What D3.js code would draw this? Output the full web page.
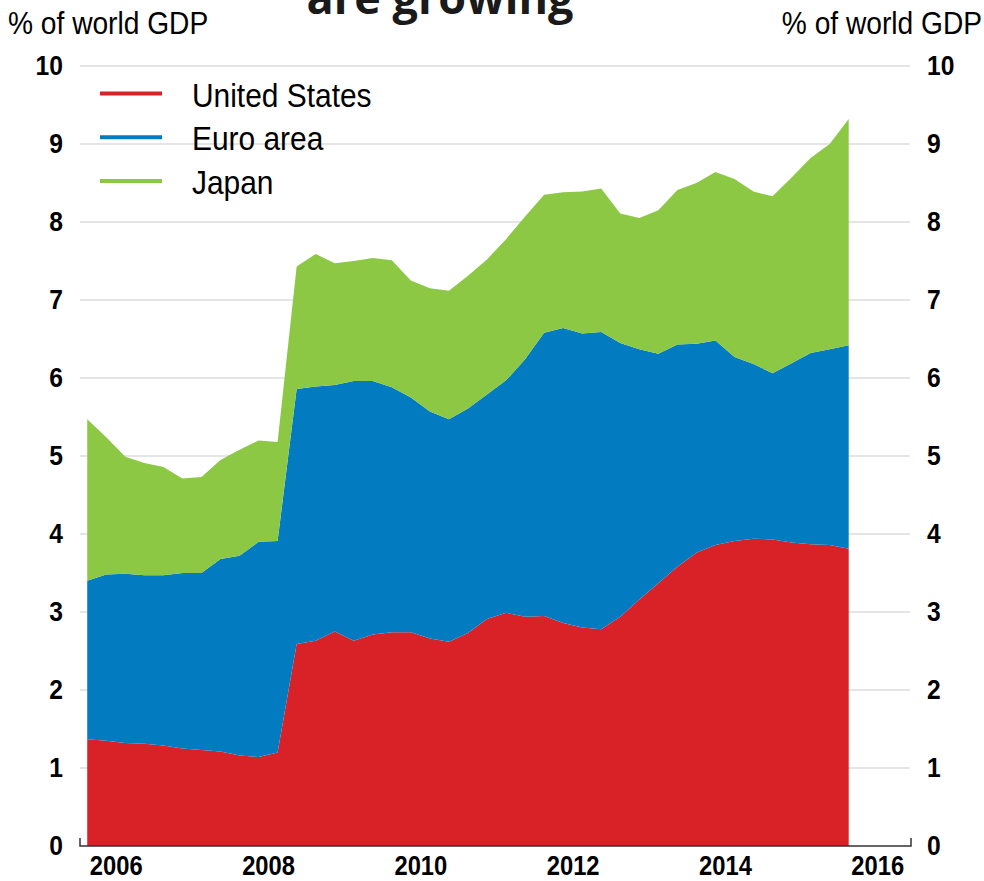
<!DOCTYPE html>
<html>
<head>
<meta charset="utf-8">
<script src="https://cdn.jsdelivr.net/npm/d3@7"></script>
<style>
  body { margin: 0; background: #fff; }
  svg { display: block; }
</style>
</head>
<body>
<svg id="chart" width="984" height="881"></svg>
<script>
// Quarterly observations, % of world GDP
const quarters = [
  "2005Q3","2005Q4",
  "2006Q1","2006Q2","2006Q3","2006Q4",
  "2007Q1","2007Q2","2007Q3","2007Q4",
  "2008Q1","2008Q2","2008Q3","2008Q4",
  "2009Q1","2009Q2","2009Q3","2009Q4",
  "2010Q1","2010Q2","2010Q3","2010Q4",
  "2011Q1","2011Q2","2011Q3","2011Q4",
  "2012Q1","2012Q2","2012Q3","2012Q4",
  "2013Q1","2013Q2","2013Q3","2013Q4",
  "2014Q1","2014Q2","2014Q3","2014Q4",
  "2015Q1","2015Q2","2015Q3"
];
const unitedStates = [
  1.37, 1.35,
  1.32, 1.31, 1.29, 1.25,
  1.23, 1.21, 1.16, 1.14,
  1.20, 2.59, 2.63, 2.75,
  2.63, 2.71, 2.74, 2.74,
  2.66, 2.62, 2.73, 2.91,
  2.99, 2.94, 2.95, 2.86,
  2.80, 2.78, 2.94, 3.16,
  3.37, 3.58, 3.76, 3.86,
  3.91, 3.94, 3.93, 3.89,
  3.87, 3.86, 3.81
];
const euroArea = [
  2.03, 2.13,
  2.17, 2.16, 2.18, 2.25,
  2.27, 2.47, 2.56, 2.76,
  2.71, 3.27, 3.26, 3.16,
  3.33, 3.25, 3.14, 3.01,
  2.91, 2.85, 2.88, 2.88,
  2.98, 3.30, 3.63, 3.78,
  3.77, 3.81, 3.51, 3.21,
  2.94, 2.85, 2.68, 2.62,
  2.36, 2.24, 2.13, 2.30,
  2.45, 2.51, 2.61
];
const japan = [
  2.07, 1.76,
  1.50, 1.44, 1.39, 1.21,
  1.23, 1.27, 1.36, 1.30,
  1.27, 1.57, 1.70, 1.56,
  1.54, 1.58, 1.63, 1.50,
  1.58, 1.65, 1.70, 1.73,
  1.81, 1.83, 1.77, 1.74,
  1.82, 1.84, 1.66, 1.68,
  1.84, 1.98, 2.06, 2.16,
  2.28, 2.21, 2.27, 2.38,
  2.50, 2.63, 2.90
];
const seriesNames = ["United States", "Euro area", "Japan"];
const seriesColors = ["#d92128", "#037bc1", "#8cc844"];
const yTicks = [0, 1, 2, 3, 4, 5, 6, 7, 8, 9, 10];
const xTickYears = [2006, 2008, 2010, 2012, 2014, 2016];
const unitLabel = "% of world GDP";
const titleText = "are growing";

const svg = d3.select("#chart");
const baseFont = "'Liberation Sans', Arial, sans-serif";
const narrowFactor = 0.88;

// Condense a text horizontally around its own anchor x
function narrow(sel) {
  sel.each(function () {
    const t = d3.select(this);
    const x0 = +t.attr("x") || 0;
    t.attr("transform", `translate(${x0},0) scale(${narrowFactor},1) translate(${-x0},0)`);
  });
}

// Quarter label -> decimal year at the middle of the quarter
const quarterToYear = q => +q.slice(0, 4) + (+q.slice(5) - 1) / 4 + 0.125;

const rows = quarters.map((q, i) => ({
  t: quarterToYear(q),
  "United States": unitedStates[i],
  "Euro area": euroArea[i],
  "Japan": japan[i]
}));

const x = d3.scaleLinear().domain([2005.53, 2016.43]).range([80, 910]);
const y = d3.scaleLinear().domain([0, 10]).range([846, 66]);

// Horizontal gridlines
svg.append("g")
  .selectAll("line")
  .data(yTicks.filter(d => d > 0))
  .join("line")
  .attr("x1", 80).attr("x2", 910)
  .attr("y1", d => y(d)).attr("y2", d => y(d))
  .attr("stroke", "#dcdcdc")
  .attr("stroke-width", 1.5);

// Stacked areas
const stacked = d3.stack().keys(seriesNames)(rows);
const area = d3.area()
  .x(d => x(d.data.t))
  .y0(d => y(d[0]))
  .y1(d => y(d[1]));

svg.append("g")
  .selectAll("path")
  .data(stacked)
  .join("path")
  .attr("d", area)
  .attr("fill", (d, i) => seriesColors[i]);

// Baseline with small end ticks
svg.append("path")
  .attr("d", `M80,${y(0) - 8}V${y(0)}H911V${y(0) - 8}`)
  .attr("fill", "none")
  .attr("stroke", "#333")
  .attr("stroke-width", 1.5);

// Axes (labels only)
const styleAxis = size => g => {
  g.select(".domain").remove();
  g.selectAll(".tick line").remove();
  g.selectAll(".tick text")
    .attr("font-family", baseFont)
    .attr("font-weight", "bold")
    .attr("font-size", size)
    .attr("fill", "#000")
    .call(narrow);
};

svg.append("g")
  .attr("transform", "translate(80,0)")
  .call(d3.axisLeft(y).tickValues(yTicks).tickFormat(d3.format("d")).tickSize(0).tickPadding(17))
  .call(styleAxis(28));

svg.append("g")
  .attr("transform", "translate(911,0)")
  .call(d3.axisRight(y).tickValues(yTicks).tickFormat(d3.format("d")).tickSize(0).tickPadding(16))
  .call(styleAxis(28));

svg.append("g")
  .attr("transform", `translate(0,${y(0)})`)
  .call(d3.axisBottom(x).tickValues(xTickYears).tickFormat(d3.format("d")).tickSize(0).tickPadding(10))
  .call(styleAxis(27));

// Unit labels
svg.append("text")
  .attr("x", 8).attr("y", 34)
  .attr("font-family", baseFont)
  .attr("font-size", 32)
  .attr("fill", "#000")
  .text(unitLabel)
  .call(narrow);

svg.append("text")
  .attr("x", 982).attr("y", 34)
  .attr("text-anchor", "end")
  .attr("font-family", baseFont)
  .attr("font-size", 32)
  .attr("fill", "#000")
  .text(unitLabel)
  .call(narrow);

// Title (runs past the top edge)
svg.append("text")
  .attr("x", 440).attr("y", 14)
  .attr("text-anchor", "middle")
  .attr("font-family", "'Open Sans', sans-serif")
  .attr("font-weight", "bold")
  .attr("font-size", 45)
  .attr("fill", "#1a1a1a")
  .text(titleText);

// Legend
const legend = svg.append("g")
  .selectAll("g")
  .data(seriesNames)
  .join("g")
  .attr("transform", (d, i) => `translate(100,${93.5 + i * 43.7})`);

legend.append("line")
  .attr("x1", 0).attr("x2", 62)
  .attr("stroke", (d, i) => seriesColors[i])
  .attr("stroke-width", 4);

legend.append("text")
  .attr("x", 92).attr("y", 13)
  .attr("font-family", baseFont)
  .attr("font-size", 34)
  .attr("fill", "#000")
  .text(d => d)
  .call(narrow);
</script>
</body>
</html>
